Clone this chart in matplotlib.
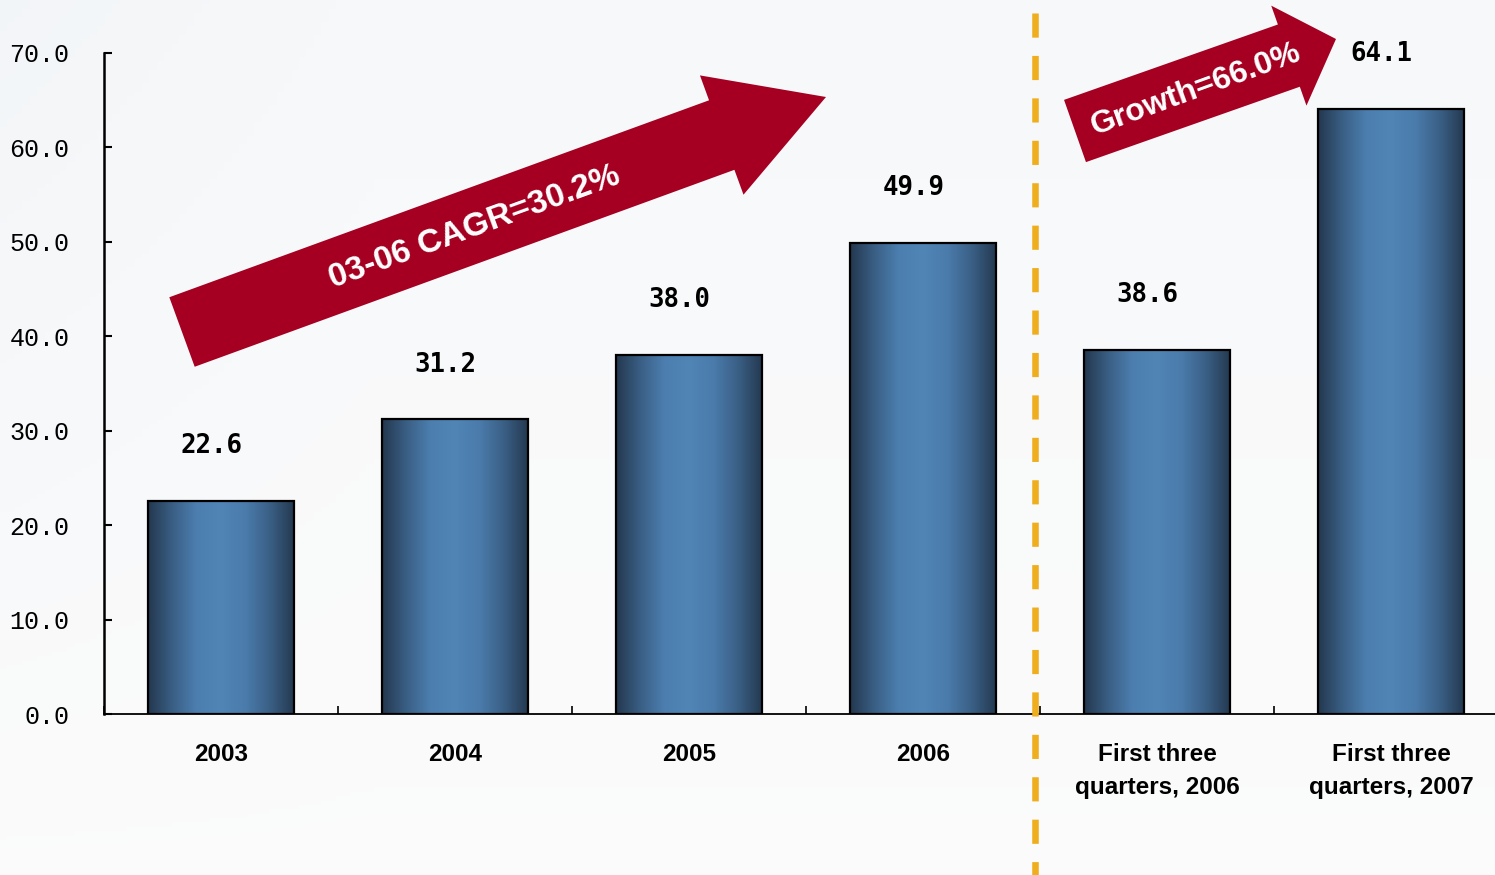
import numpy as np
import matplotlib
matplotlib.use('Agg')
import matplotlib.pyplot as plt
from matplotlib.patches import Polygon
from matplotlib.colors import LinearSegmentedColormap

categories = ['2003', '2004', '2005', '2006',
              'First three\nquarters, 2006', 'First three\nquarters, 2007']
values = [22.6, 31.2, 38.0, 49.9, 38.6, 64.1]
yticks = [0, 10, 20, 30, 40, 50, 60, 70]
cagr_text = '03-06 CAGR=30.2%'
growth_text = 'Growth=66.0%'

W, H = 1495, 875
fig = plt.figure(figsize=(W / 100, H / 100), dpi=100)

# background wash
bg = fig.add_axes([0, 0, 1, 1], zorder=-10)
yy, xx = np.mgrid[0:1:200j, 0:1:200j]
shade = 0.06 * (1 - yy) ** 1.2 + 0.06 * np.clip(1 - xx * 4, 0, 1) * (1 - yy)
base = np.array([0.985, 0.985, 0.985])
tint = np.array([0.80, 0.86, 0.92])
img = base[None, None, :] * (1 - shade[..., None] * 1.5) + tint[None, None, :] * shade[..., None] * 1.5
bg.imshow(np.clip(img, 0, 1), extent=(0, 1, 0, 1), aspect='auto')
bg.axis('off')

ax = fig.add_axes([104 / W, (H - 714) / H, (1508 - 104) / W, 661 / H])
ax.patch.set_alpha(0)

x = np.arange(len(values))
bars = ax.bar(x, values, width=0.624, facecolor='none', edgecolor='black',
              linewidth=1.6, zorder=3)

grad = LinearSegmentedColormap.from_list(
    'bar', ['#24384f', '#3a5f85', '#4c7fb0', '#5085b6', '#4a7bab', '#3a5f85', '#24384f'])
g = np.linspace(0, 1, 256)[None, :]
for b in bars:
    x0, w, h = b.get_x(), b.get_width(), b.get_height()
    im = ax.imshow(g, cmap=grad, extent=(x0, x0 + w, 0, h), aspect='auto', zorder=2)
    im.set_clip_path(b)

for xi, v in zip(x, values):
    ax.text(xi - 0.04, v + 5.8, f'{v:.1f}', ha='center', va='center',
            family='DejaVu Sans Mono', fontweight='bold', fontsize=18.5)

ax.set_xlim(-0.5, len(values) - 0.5)
ax.set_ylim(0, 70)
ax.set_yticks(yticks)
ax.set_yticklabels([f'{t:.1f}' for t in yticks], family='Liberation Mono', fontsize=18)
ax.tick_params(axis='y', direction='in', length=6, width=1.5, pad=25)
ax.set_xticks(x)
ax.set_xticklabels(categories, fontsize=17.5, fontweight='bold',
                   family='Liberation Sans', linespacing=1.55)
ax.tick_params(axis='x', length=0, pad=21)
ax.set_xticks(np.arange(len(values) + 1) - 0.5, minor=True)
ax.tick_params(axis='x', which='minor', direction='in', length=6, width=1.2)
for s in ['top', 'right']:
    ax.spines[s].set_visible(False)
ax.spines['left'].set_linewidth(1.8)
ax.spines['bottom'].set_linewidth(1.3)

# divider between annual and quarterly figures
ax.plot([3.48, 3.48], [74.2, -17], color='#efae1e', lw=4.7,
        linestyle=(0, (3.7, 2.8)), solid_capstyle='butt', clip_on=False, zorder=4)


def arrow(tail, tip, shaft_w, head_w, head_len):
    tail = np.array(tail, float)
    tip = np.array(tip, float)
    d = tip - tail
    d /= np.hypot(*d)
    n = np.array([-d[1], d[0]])
    base = tip - d * head_len
    pts = [tail + n * shaft_w / 2, base + n * shaft_w / 2, base + n * head_w / 2, tip,
           base - n * head_w / 2, base - n * shaft_w / 2, tail - n * shaft_w / 2]
    pts = [(p[0] / W, 1 - p[1] / H) for p in pts]
    fig.patches.append(Polygon(pts, closed=True, transform=fig.transFigure,
                               facecolor='#a50021', edgecolor='none', zorder=5))


arrow((182, 332), (826, 97), 74, 127, 111)
arrow((1075, 131), (1336, 39), 66, 106, 50)

fig.text(475 / W, 1 - 227 / H, cagr_text, rotation=20, ha='center', va='center',
         color='white', fontweight='bold', fontsize=24, family='Liberation Sans',
         rotation_mode='anchor', zorder=6)
fig.text(1196 / W, 1 - 90 / H, growth_text, rotation=20, ha='center', va='center',
         color='white', fontweight='bold', fontsize=23, family='Liberation Sans',
         rotation_mode='anchor', zorder=6)

fig.savefig('out.png', dpi=100)
